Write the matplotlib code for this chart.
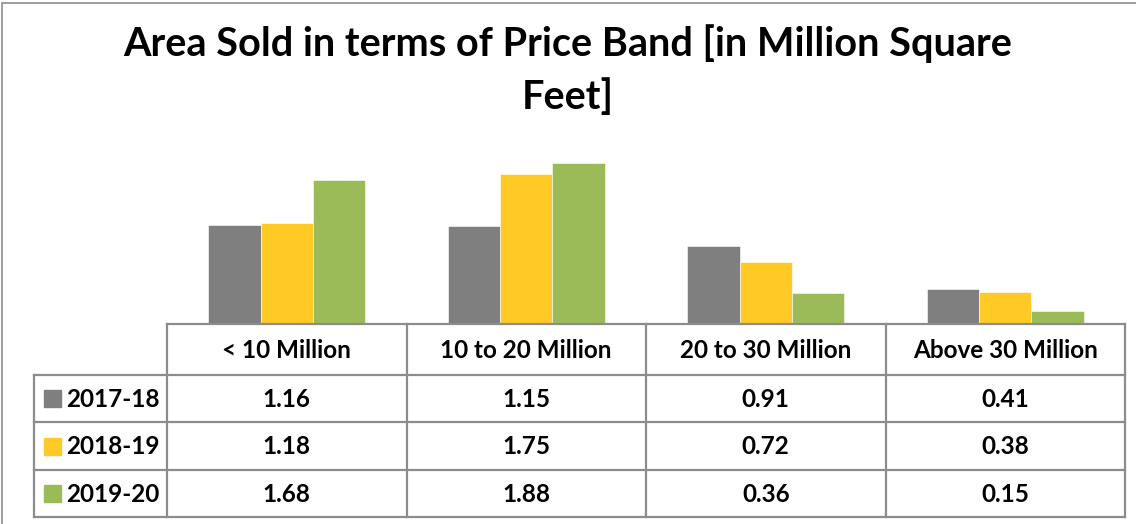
import numpy as np
import matplotlib.pyplot as plt
from matplotlib.patches import Rectangle

# price bands and area sold (million sq ft)
bands = ['< 10 Million', '10 to 20 Million', '20 to 30 Million', 'Above 30 Million']
years = ['2017-18', '2018-19', '2019-20']
fy18 = [1.16, 1.15, 0.91, 0.41]
fy19 = [1.18, 1.75, 0.72, 0.38]
fy20 = [1.68, 1.88, 0.36, 0.15]
colors = ['#7f7f7f', '#ffc926', '#9bbb59']

plt.rcParams['font.family'] = ['Lato', 'DejaVu Sans']
plt.rcParams['font.weight'] = 'bold'

W, H = 1136, 524
fig = plt.figure(figsize=(W / 100, H / 100), dpi=100)
line_c = '#8c8c8c'


def px(x0, y0, x1, y1):
    # pixel box (top-left origin) -> figure fraction rect
    return [x0 / W, 1 - y1 / H, (x1 - x0) / W, (y1 - y0) / H]


# outer chart frame
fig.patches.append(Rectangle((2 / W, -0.1), 1.2, 1 - 3 / H + 0.1,
                             transform=fig.transFigure, fill=False,
                             edgecolor='#8c8c8c', lw=1.2))

title = ['Area Sold in terms of Price Band [in Million Square', 'Feet]']
for k, t in enumerate(title):
    fig.text(0.5, 1 - (56 + 53 * k) / H, t, ha='center', va='baseline',
             fontsize=28.5, fontweight='bold')

# bars
ax = fig.add_axes(px(167, 153, 1125, 324))
series = [fy18, fy19, fy20]
x = np.arange(len(bands))
bw = 0.218
for i, vals in enumerate(series):
    ax.bar(x + (i - 1) * bw, vals, bw, color=colors[i], edgecolor='white',
           linewidth=0.4)
ax.set_xlim(-0.5, len(bands) - 0.5)
ax.set_ylim(0, 2.0)
ax.axis('off')

# data table under the bars
tab = fig.add_axes(px(34, 324, 1125, 517))
lab_w = (167 - 34) / ((1125 - 167) / len(bands))
tab.set_xlim(-0.5 - lab_w, len(bands) - 0.5)
rows = [0, 51, 98, 146, 193]
tab.set_ylim(rows[-1], 0)
tab.axis('off')
kw = dict(color=line_c, lw=1.6, solid_capstyle='projecting', clip_on=False)
# header row
tab.plot([-0.5, len(bands) - 0.5], [0, 0], **kw)
for j in range(len(bands) + 1):
    tab.plot([j - 0.5, j - 0.5], [0, rows[-1]], **kw)
for r in rows[1:]:
    tab.plot([-0.5 - lab_w, len(bands) - 0.5], [r, r], **kw)
tab.plot([-0.5 - lab_w] * 2, [rows[1], rows[-1]], **kw)

fs = 17.5
for j, b in enumerate(bands):
    tab.text(j, (rows[0] + rows[1]) / 2 + 1, b, ha='center', va='center',
             fontsize=fs, fontweight='bold')
for i, vals in enumerate(series):
    yc = (rows[i + 1] + rows[i + 2]) / 2
    for j, v in enumerate(vals):
        tab.text(j, yc + 1, f'{v:.2f}', ha='center', va='center',
                 fontsize=fs, fontweight='bold')
    x0 = -0.5 - lab_w
    tab.add_patch(Rectangle((x0 + 10 / 239.5, yc - 8.5), 17 / 239.5, 17,
                            color=colors[i], clip_on=False))
    tab.text(x0 + 32 / 239.5, yc + 1, years[i], ha='left', va='center',
             fontsize=fs, fontweight='bold')

fig.savefig('out.png', dpi=100)
